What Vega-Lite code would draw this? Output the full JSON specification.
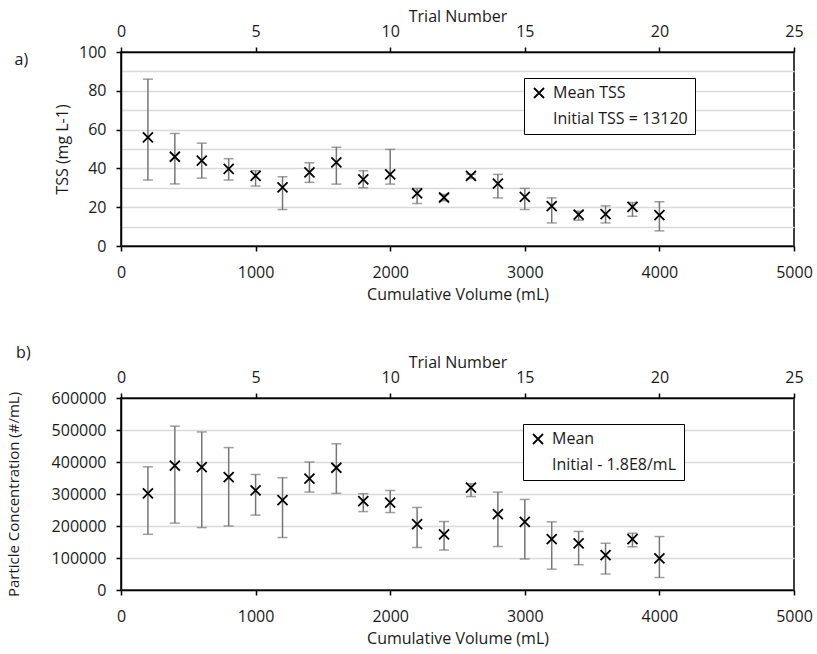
{
  "$schema": "https://vega.github.io/schema/vega-lite/v6.json",
  "background": "white",
  "padding": {"left": 5, "top": 7, "right": 5, "bottom": 3},
  "spacing": 41,
  "config": {
    "font": "Open Sans",
    "view": {"stroke": "black", "strokeWidth": 1.5},
    "axis": {
      "labelFont": "Open Sans", "titleFont": "Open Sans",
      "labelFontSize": 16, "titleFontSize": 16, "titleFontWeight": "normal",
      "labelColor": "#1a1a1a", "titleColor": "#1a1a1a",
      "domainColor": "black", "domainWidth": 1.5,
      "tickColor": "black", "tickWidth": 1.5, "tickSize": 5,
      "labelPadding": 10, "labelFlush": false, "labelOverlap": false,
      "gridColor": "#d9d9d9", "gridWidth": 1.5
    },
    "legend": {
      "labelFont": "Open Sans", "labelFontSize": 16, "labelColor": "#1a1a1a",
      "strokeColor": "black", "fillColor": "white", "padding": 7,
      "rowPadding": 9, "labelOffset": 6, "symbolSize": 100,
      "symbolStrokeWidth": 1.8, "symbolStrokeColor": "black", "labelLimit": 300
    }
  },
  "resolve": {
    "scale": {"x": "independent", "y": "independent", "shape": "independent"},
    "legend": {"shape": "independent"}
  },
  "vconcat": [
    {
      "width": 673,
      "height": 194,
      "title": {"text": "a)", "anchor": "start", "frame": "bounds", "dx": -40, "dy": 64, "fontSize": 16, "fontWeight": "normal", "font": "Open Sans", "color": "#1a1a1a"},
      "data": {"values": [
        {"vol": 200, "trial": 1, "mean": 56, "lo": 34, "hi": 86},
        {"vol": 400, "trial": 2, "mean": 46, "lo": 32, "hi": 58},
        {"vol": 600, "trial": 3, "mean": 44, "lo": 35, "hi": 53},
        {"vol": 800, "trial": 4, "mean": 39.7, "lo": 34, "hi": 45},
        {"vol": 1000, "trial": 5, "mean": 36.2, "lo": 30.9, "hi": 38.8},
        {"vol": 1200, "trial": 6, "mean": 30.2, "lo": 18.8, "hi": 35.7},
        {"vol": 1400, "trial": 7, "mean": 37.9, "lo": 32.8, "hi": 42.9},
        {"vol": 1600, "trial": 8, "mean": 43.1, "lo": 31.9, "hi": 50.9},
        {"vol": 1800, "trial": 9, "mean": 34.3, "lo": 30, "hi": 38.8},
        {"vol": 2000, "trial": 10, "mean": 36.9, "lo": 31.9, "hi": 49.8},
        {"vol": 2200, "trial": 11, "mean": 27.1, "lo": 21.9, "hi": 29.7},
        {"vol": 2400, "trial": 12, "mean": 25, "lo": 23.3, "hi": 26.6},
        {"vol": 2600, "trial": 13, "mean": 36.2, "lo": 34.8, "hi": 37},
        {"vol": 2800, "trial": 14, "mean": 32.2, "lo": 24.8, "hi": 36.9},
        {"vol": 3000, "trial": 15, "mean": 25.3, "lo": 18.8, "hi": 29.7},
        {"vol": 3200, "trial": 16, "mean": 20.5, "lo": 11.9, "hi": 24.8},
        {"vol": 3400, "trial": 17, "mean": 16.2, "lo": 13.3, "hi": 17.9},
        {"vol": 3600, "trial": 18, "mean": 16.4, "lo": 11.9, "hi": 20.7},
        {"vol": 3800, "trial": 19, "mean": 20.2, "lo": 15.3, "hi": 22.4},
        {"vol": 4000, "trial": 20, "mean": 15.9, "lo": 7.8, "hi": 22.8}
      ]},
      "resolve": {"scale": {"x": "independent"}},
      "layer": [
        {
          "mark": {"type": "errorbar", "color": "#767676", "thickness": 1.5, "ticks": {"size": 10, "thickness": 1.5, "color": "#767676"}},
          "encoding": {
            "x": {"field": "vol", "type": "quantitative", "scale": {"domain": [0, 5000]}, "axis": null},
            "y": {"field": "lo", "type": "quantitative", "scale": {"domain": [0, 100]},
                  "axis": {"title": "TSS (mg L-1)", "values": [0, 10, 20, 30, 40, 50, 60, 70, 80, 90, 100],
                           "labelExpr": "datum.value % 20 === 0 ? datum.label : ''",
                           "tickColor": {"condition": {"test": "datum.value % 20 !== 0", "value": "transparent"}, "value": "black"},
                           "grid": true, "titlePadding": 8}},
            "y2": {"field": "hi"}
          }
        },
        {
          "mark": {"type": "point", "filled": false, "color": "black", "strokeWidth": 1.8, "size": 100, "opacity": 1},
          "encoding": {
            "x": {"field": "vol", "type": "quantitative", "scale": {"domain": [0, 5000]},
                  "axis": {"title": "Cumulative Volume (mL)", "values": [0, 1000, 2000, 3000, 4000, 5000], "format": "d", "grid": false, "labelPadding": 13, "titlePadding": 6}},
            "y": {"field": "mean", "type": "quantitative", "scale": {"domain": [0, 100]},
                  "axis": {"title": "TSS (mg L-1)", "values": [0, 10, 20, 30, 40, 50, 60, 70, 80, 90, 100],
                           "labelExpr": "datum.value % 20 === 0 ? datum.label : ''",
                           "tickColor": {"condition": {"test": "datum.value % 20 !== 0", "value": "transparent"}, "value": "black"},
                           "grid": true, "titlePadding": 8}},
            "shape": {"datum": "Mean TSS", "type": "nominal",
                      "scale": {"domain": ["Mean TSS", "Initial TSS = 13120"], "range": ["M-1,-1L1,1M-1,1L1,-1", "M0,0"]},
                      "legend": {"orient": "none", "legendX": 403, "legendY": 26, "title": null}}
          }
        },
        {
          "mark": {"type": "point", "opacity": 0},
          "encoding": {
            "x": {"field": "trial", "type": "quantitative", "scale": {"domain": [0, 25]},
                  "axis": {"orient": "top", "title": "Trial Number", "values": [0, 5, 10, 15, 20, 25], "grid": false, "labelPadding": 8, "titlePadding": -1}},
            "y": {"field": "mean", "type": "quantitative",
                  "axis": {"title": "TSS (mg L-1)", "values": [0, 10, 20, 30, 40, 50, 60, 70, 80, 90, 100],
                           "labelExpr": "datum.value % 20 === 0 ? datum.label : ''",
                           "tickColor": {"condition": {"test": "datum.value % 20 !== 0", "value": "transparent"}, "value": "black"},
                           "grid": true, "titlePadding": 8}}
          }
        }
      ]
    },
    {
      "width": 673,
      "height": 192,
      "title": {"text": "b)", "anchor": "start", "frame": "bounds", "dx": 10, "dy": 11, "fontSize": 16, "fontWeight": "normal", "font": "Open Sans", "color": "#1a1a1a"},
      "data": {"values": [
        {"vol": 200, "trial": 1, "mean": 302000, "lo": 174000, "hi": 385000},
        {"vol": 400, "trial": 2, "mean": 389000, "lo": 209000, "hi": 512000},
        {"vol": 600, "trial": 3, "mean": 384000, "lo": 195000, "hi": 494000},
        {"vol": 800, "trial": 4, "mean": 353000, "lo": 200000, "hi": 445000},
        {"vol": 1000, "trial": 5, "mean": 311000, "lo": 234000, "hi": 361000},
        {"vol": 1200, "trial": 6, "mean": 281000, "lo": 164000, "hi": 351000},
        {"vol": 1400, "trial": 7, "mean": 348000, "lo": 306000, "hi": 400000},
        {"vol": 1600, "trial": 8, "mean": 382000, "lo": 302000, "hi": 457000},
        {"vol": 1800, "trial": 9, "mean": 278000, "lo": 245000, "hi": 301000},
        {"vol": 2000, "trial": 10, "mean": 273000, "lo": 242000, "hi": 311000},
        {"vol": 2200, "trial": 11, "mean": 206000, "lo": 133000, "hi": 258000},
        {"vol": 2400, "trial": 12, "mean": 174000, "lo": 125000, "hi": 214000},
        {"vol": 2600, "trial": 13, "mean": 320000, "lo": 292000, "hi": 332000},
        {"vol": 2800, "trial": 14, "mean": 237000, "lo": 136000, "hi": 306000},
        {"vol": 3000, "trial": 15, "mean": 213000, "lo": 97000, "hi": 283000},
        {"vol": 3200, "trial": 16, "mean": 159000, "lo": 65000, "hi": 213000},
        {"vol": 3400, "trial": 17, "mean": 146000, "lo": 79000, "hi": 183000},
        {"vol": 3600, "trial": 18, "mean": 109000, "lo": 50000, "hi": 146000},
        {"vol": 3800, "trial": 19, "mean": 159000, "lo": 135000, "hi": 177000},
        {"vol": 4000, "trial": 20, "mean": 99000, "lo": 39000, "hi": 167000}
      ]},
      "resolve": {"scale": {"x": "independent"}},
      "layer": [
        {
          "mark": {"type": "errorbar", "color": "#767676", "thickness": 1.5, "ticks": {"size": 10, "thickness": 1.5, "color": "#767676"}},
          "encoding": {
            "x": {"field": "vol", "type": "quantitative", "scale": {"domain": [0, 5000]}, "axis": null},
            "y": {"field": "lo", "type": "quantitative", "scale": {"domain": [0, 600000]},
                  "axis": {"title": "Particle Concentration (#/mL)", "titleFontSize": 15, "values": [0, 100000, 200000, 300000, 400000, 500000, 600000], "format": "d", "grid": true, "titlePadding": 30}},
            "y2": {"field": "hi"}
          }
        },
        {
          "mark": {"type": "point", "filled": false, "color": "black", "strokeWidth": 1.8, "size": 100, "opacity": 1},
          "encoding": {
            "x": {"field": "vol", "type": "quantitative", "scale": {"domain": [0, 5000]},
                  "axis": {"title": "Cumulative Volume (mL)", "values": [0, 1000, 2000, 3000, 4000, 5000], "format": "d", "grid": false, "labelPadding": 13, "titlePadding": 6}},
            "y": {"field": "mean", "type": "quantitative", "scale": {"domain": [0, 600000]},
                  "axis": {"title": "Particle Concentration (#/mL)", "titleFontSize": 15, "values": [0, 100000, 200000, 300000, 400000, 500000, 600000], "format": "d", "grid": true, "titlePadding": 30}},
            "shape": {"datum": "Mean", "type": "nominal",
                      "scale": {"domain": ["Mean", "Initial - 1.8E8/mL"], "range": ["M-1,-1L1,1M-1,1L1,-1", "M0,0"]},
                      "legend": {"orient": "none", "legendX": 402, "legendY": 26, "title": null}}
          }
        },
        {
          "mark": {"type": "point", "opacity": 0},
          "encoding": {
            "x": {"field": "trial", "type": "quantitative", "scale": {"domain": [0, 25]},
                  "axis": {"orient": "top", "title": "Trial Number", "values": [0, 5, 10, 15, 20, 25], "grid": false, "labelPadding": 8, "titlePadding": -1}},
            "y": {"field": "mean", "type": "quantitative",
                  "axis": {"title": "Particle Concentration (#/mL)", "titleFontSize": 15, "values": [0, 100000, 200000, 300000, 400000, 500000, 600000], "format": "d", "grid": true, "titlePadding": 30}}
          }
        }
      ]
    }
  ]
}
